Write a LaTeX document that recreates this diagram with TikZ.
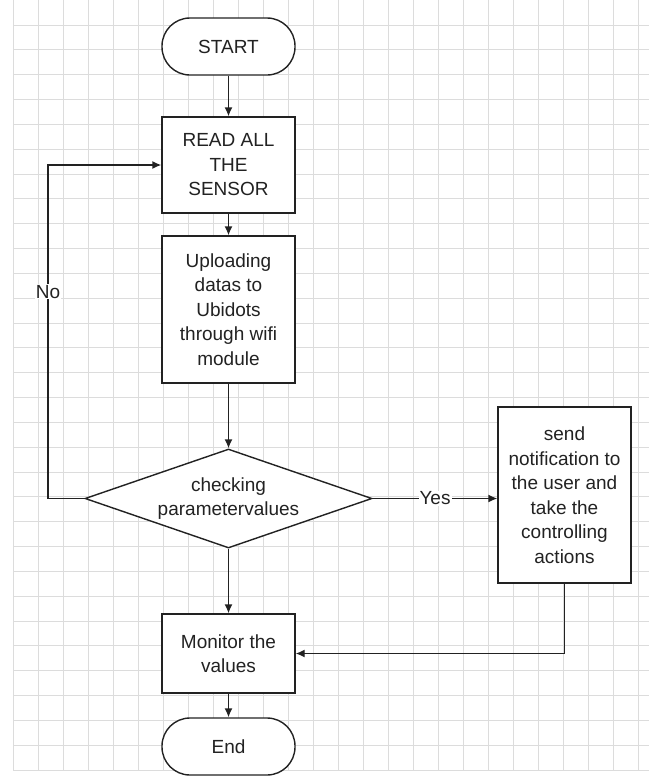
\documentclass[tikz,border=0pt]{standalone}
\usepackage{fontspec}
\setmainfont{Liberation Sans}
\usetikzlibrary{arrows.meta,shapes.geometric}
\definecolor{gridc}{HTML}{DCDCDC}
\definecolor{ink}{HTML}{222222}
\begin{document}
\begin{tikzpicture}[x=1pt,y=-1pt,
  gridline/.style={draw=gridc,line width=0.8pt},
  box/.style={draw=ink,fill=white,line width=1.4pt,align=center,inner sep=0pt,
    font=\fontsize{19}{24.5}\selectfont,text=ink},
  procbox/.style={box,minimum width=133pt},
  termbox/.style={box,minimum width=133pt,minimum height=57pt,rounded corners=28pt},
  decbox/.style={box,diamond,aspect=2.9,minimum width=287pt,minimum height=99pt},
  arr/.style={draw=ink,line width=1.4pt,-{Latex[length=9pt,width=8pt]}},
  lbl/.style={fill=white,inner sep=1pt,font=\fontsize{19}{24.5}\selectfont,text=ink}]
\useasboundingbox (0,0) rectangle (649,782);
\fill[white] (0,0) rectangle (649,782);
% grid
\foreach \i in {0,...,25} \draw[gridline] (13+25*\i,0) -- (13+25*\i,770);
\foreach \j in {0,...,30} \draw[gridline] (13,25+24.83*\j) -- (649,25+24.83*\j);
% nodes
\node[termbox] (start) at (228.5,46.5) {START};
\node[procbox,minimum height=96pt] (read) at (228.5,165) {READ ALL\\THE\\SENSOR};
\node[procbox,minimum height=147pt] (upload) at (228.5,309.5) {Uploading\\datas to\\Ubidots\\through wifi\\module};
\node[decbox] (dec) at (228.5,498.5) {checking\\parametervalues};
\node[procbox,minimum height=176pt] (send) at (564.5,495) {send\\notification to\\the user and\\take the\\controlling\\actions};
\node[procbox,minimum height=79pt] (mon) at (228.5,653.5) {Monitor the\\values};
\node[termbox] (end) at (228.5,746.5) {End};
\coordinate (nocorner) at (48,498.5);
% connectors
\draw[arr] (start) -- (read);
\draw[arr] (read) -- (upload);
\draw[arr] (upload) -- (dec);
\draw[arr] (dec) -- (mon);
\draw[arr] (mon) -- (end);
\draw[arr] (dec.east) -- node[lbl] {Yes} (dec.east -| send.west);
\draw[arr] (send.south) |- (mon.east);
\draw[arr] (dec.west) -- (nocorner) |- node[lbl,pos=0.31] {No} (read.west);
\end{tikzpicture}
\end{document}
